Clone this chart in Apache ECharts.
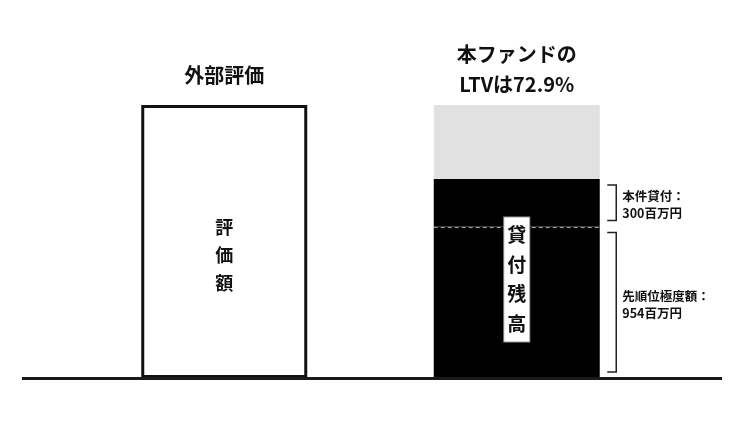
<!DOCTYPE html>
<html>
<head>
<meta charset="utf-8">
<script src="https://cdn.jsdelivr.net/npm/echarts@6/dist/echarts.min.js"></script>
<style>
  html, body { margin: 0; padding: 0; background: #fff; }
  #chart { width: 750px; height: 422px; }
</style>
</head>
<body>
<div id="chart"></div>
<script>
// 百万円
var categories = ['外部評価', '本ファンド'];
var valuationData = [1720, null];
var seniorData = [null, 954];
var loanData = [null, 300];
var restData = [null, 466];

var innerLabels = ['評\n価\n額', '貸\n付\n残\n高'];
// [category index, from, to]
var brackets = [[1, 954, 1254], [1, 0, 954]];
var bracketLabels = ['本件貸付：\n300百万円', '先順位極度額：\n954百万円'];

var FONT = '"Noto Sans CJK JP", "Noto Sans", sans-serif';
var BAR_W = 166;

var loanTotal = seniorData[1] + loanData[1];
var ltv = (loanTotal / valuationData[0] * 100).toFixed(1);

var myChart = echarts.init(document.getElementById('chart'));

function renderBracket(params, api) {
  var lo = api.coord([api.value(0), api.value(1)]);
  var hi = api.coord([api.value(0), api.value(2)]);
  var bx = lo[0] + 99.5;
  var yTop = hi[1] + 6;
  var yBot = lo[1] - 6;
  return {
    type: 'group',
    children: [{
      type: 'polyline',
      shape: { points: [[bx - 9, yTop], [bx, yTop], [bx, yBot], [bx - 9, yBot]] },
      style: { stroke: '#222', lineWidth: 1.5, fill: null }
    }, {
      type: 'text',
      x: bx + 6,
      y: (yTop + yBot) / 2 + 2,
      style: {
        text: bracketLabels[params.dataIndex],
        font: 'bold 12.5px ' + FONT,
        fill: '#111',
        lineHeight: 17,
        align: 'left',
        verticalAlign: 'middle'
      }
    }]
  };
}

function renderInner(params, api) {
  var i = params.dataIndex;
  var base = api.coord([i, 0]);
  var children = [];
  if (i === 0) {
    var p = api.coord([i, valuationData[0] * 0.45]);
    children.push({
      type: 'text',
      x: p[0], y: p[1],
      style: {
        text: innerLabels[0],
        font: 'bold 18px ' + FONT,
        fill: '#111',
        lineHeight: 28,
        align: 'center',
        verticalAlign: 'middle'
      }
    });
  } else {
    var d = api.coord([i, seniorData[1]]);
    var top = api.coord([i, loanTotal]);
    children.push({
      type: 'line',
      shape: { x1: d[0] - BAR_W / 2, y1: d[1] + 1, x2: d[0] + BAR_W / 2, y2: d[1] + 1 },
      style: { stroke: '#aaa', lineWidth: 1, lineDash: [4, 3] }
    });
    children.push({
      type: 'text',
      x: d[0], y: (base[1] + top[1]) / 2 + 1,
      style: {
        text: innerLabels[1],
        font: 'bold 19px ' + FONT,
        fill: '#111',
        lineHeight: 29.5,
        align: 'center',
        verticalAlign: 'middle',
        backgroundColor: '#fff',
        borderColor: '#999',
        borderWidth: 1,
        padding: [3, 3]
      }
    });
  }
  return { type: 'group', children: children };
}

var titleLabel = {
  show: true,
  position: 'top',
  color: '#111',
  fontFamily: FONT,
  fontWeight: 'bold',
  fontSize: 20,
  lineHeight: 30
};

var option = {
  animation: false,
  backgroundColor: '#fff',
  grid: { left: 78, right: 87, top: 105, bottom: 44 },
  xAxis: {
    type: 'category',
    data: categories,
    axisLine: { show: false },
    axisTick: { show: false },
    axisLabel: { show: false }
  },
  yAxis: {
    type: 'value',
    min: 0,
    max: valuationData[0],
    show: false,
    splitLine: { show: false }
  },
  graphic: [{
    type: 'line',
    shape: { x1: 22, y1: 378.5, x2: 722, y2: 378.5 },
    style: { stroke: '#1a1a1a', lineWidth: 3 },
    z: 100
  }],
  series: [{
    name: '外部評価額',
    type: 'bar',
    stack: 'all',
    barWidth: BAR_W,
    data: valuationData,
    itemStyle: { color: '#fff', borderColor: '#111', borderWidth: 3 },
    label: Object.assign({}, titleLabel, { distance: 15, formatter: categories[0] })
  }, {
    name: '先順位極度額',
    type: 'bar',
    stack: 'all',
    barWidth: BAR_W,
    data: seniorData,
    itemStyle: { color: '#000' }
  }, {
    name: '本件貸付',
    type: 'bar',
    stack: 'all',
    barWidth: BAR_W,
    data: loanData,
    itemStyle: { color: '#000' }
  }, {
    name: '残り',
    type: 'bar',
    stack: 'all',
    barWidth: BAR_W,
    data: restData,
    itemStyle: { color: '#e1e1e1' },
    label: Object.assign({}, titleLabel, {
      distance: 6,
      formatter: '本ファンドの\nLTVは' + ltv + '%'
    })
  }, {
    type: 'custom',
    renderItem: renderInner,
    data: [[0, 0], [1, 0]],
    z: 5
  }, {
    type: 'custom',
    renderItem: renderBracket,
    data: brackets,
    z: 5
  }]
};

myChart.setOption(option);
</script>
</body>
</html>
